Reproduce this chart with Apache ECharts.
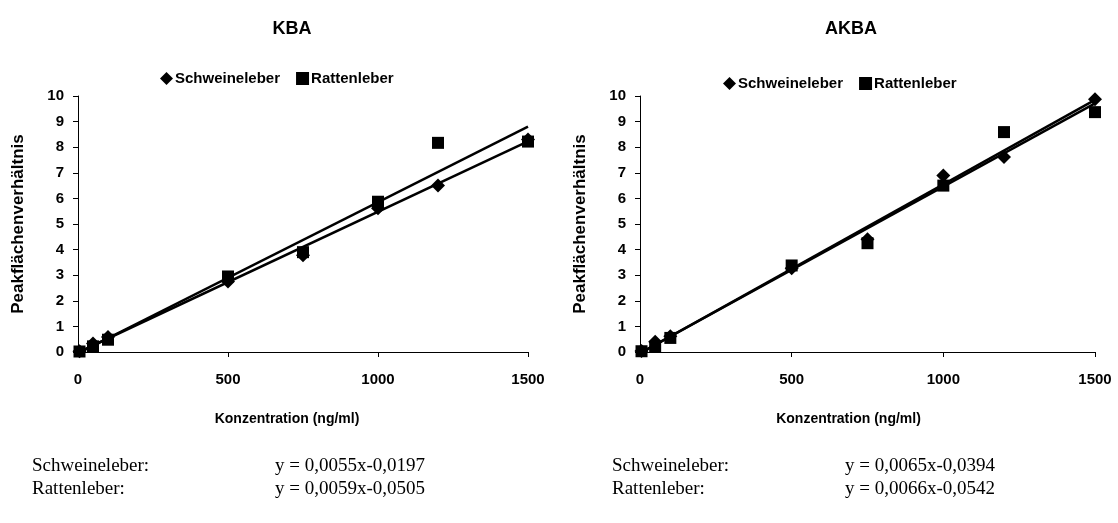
<!DOCTYPE html>
<html>
<head>
<meta charset="utf-8">
<script src="https://cdn.jsdelivr.net/npm/echarts@6/dist/echarts.min.js"></script>
<style>
html,body{margin:0;padding:0;background:#fff;}
#c{width:1118px;height:523px;}
</style>
</head>
<body>
<div id="c"></div>
<script>
// ---- data ----
var concentrations = [5, 50, 100, 500, 750, 1000, 1200, 1500];
var kbaSchwein = [0.03, 0.33, 0.59, 2.75, 3.78, 5.62, 6.5, 8.3];
var kbaRatten  = [0.02, 0.22, 0.48, 2.95, 3.9, 5.87, 8.17, 8.22];
var akbaSchwein = [0.04, 0.4, 0.62, 3.27, 4.4, 6.89, 7.62, 9.87];
var akbaRatten  = [0.03, 0.2, 0.55, 3.38, 4.25, 6.5, 8.59, 9.37];
// trend line equations (slope, intercept) as printed
var kbaSchweinFit = [0.0055, -0.0197];
var kbaRattenFit  = [0.0059, -0.0505];
var akbaSchweinFit = [0.0065, -0.0394];
var akbaRattenFit  = [0.0066, -0.0542];
var trendRange = [0, 1500];
var chartTitles = ['KBA', 'AKBA'];
var seriesNames = ['Schweineleber', 'Rattenleber'];
var xTicks = [0, 500, 1000, 1500];
var yTicks = [0, 1, 2, 3, 4, 5, 6, 7, 8, 9, 10];
var xAxisName = 'Konzentration (ng/ml)';
var yAxisName = 'Peakflächenverhältnis';
var equationsKBA = ['y = 0,0055x-0,0197', 'y = 0,0059x-0,0505'];
var equationsAKBA = ['y = 0,0065x-0,0394', 'y = 0,0066x-0,0542'];

// ---- build ----
function pairs(xs, ys){ return xs.map(function(x,i){ return [x, ys[i]]; }); }
function fitLine(fit){ return trendRange.map(function(x){ return [x, fit[0]*x + fit[1]]; }); }

var SANS = '"Liberation Sans", Arial, sans-serif';
var NARROW = '"Liberation Sans Narrow", "Arial Narrow", "Liberation Sans", sans-serif';
var SERIF = '"Liberation Serif", "Times New Roman", serif';

function xAxisCfg(idx, shift){
  return {
    gridIndex: idx, type: 'value', min: xTicks[0], max: xTicks[xTicks.length-1], interval: xTicks[1]-xTicks[0],
    name: xAxisName, nameLocation: 'middle', nameGap: 60,
    nameTextStyle: {fontFamily: NARROW, fontWeight: 'bold', fontSize: 14, color: '#000', padding: [0, shift, 0, 0]},
    axisLine: {show: true, onZero: false, lineStyle: {color: '#000', width: 1}},
    axisTick: {show: true, inside: false, length: 5, lineStyle: {color: '#000'}},
    axisLabel: {fontFamily: SANS, fontWeight: 'bold', fontSize: 15, color: '#000', margin: 20,
      formatter: function(v){ return String(v); }},
    splitLine: {show: false}
  };
}
function yAxisCfg(idx){
  return {
    gridIndex: idx, type: 'value', min: yTicks[0], max: yTicks[yTicks.length-1], interval: yTicks[1]-yTicks[0],
    name: yAxisName, nameLocation: 'middle', nameGap: 51, nameRotate: 90,
    nameTextStyle: {fontFamily: SANS, fontWeight: 'bold', fontSize: 17, color: '#000'},
    axisLine: {show: true, onZero: false, lineStyle: {color: '#000', width: 1}},
    axisTick: {show: true, inside: false, length: 5, lineStyle: {color: '#000'}},
    axisLabel: {fontFamily: SANS, fontWeight: 'bold', fontSize: 15, color: '#000', margin: 14},
    splitLine: {show: false}
  };
}
function scatter(name, idx, data, sym, size){
  return {name: name, type: 'scatter', xAxisIndex: idx, yAxisIndex: idx, data: data,
    symbol: sym, symbolSize: size, itemStyle: {color: '#000', opacity: 1}, z: 3, silent: true};
}
function trend(idx, fit){
  return {name: 'trend', type: 'line', xAxisIndex: idx, yAxisIndex: idx, data: fitLine(fit),
    symbol: 'none', lineStyle: {color: '#000', width: 2.5}, z: 2, silent: true};
}

function eqText(x, y, s){
  return {type: 'text', left: x, top: y, style: {text: s, font: '19px ' + SERIF, fill: '#000'}};
}

function legendCfg(left, top){
  return {left: left, top: top, itemGap: 16, itemWidth: 13, itemHeight: 13,
    data: [{name: seriesNames[0], icon: 'diamond'}, {name: seriesNames[1], icon: 'rect'}],
    itemStyle: {opacity: 1},
    textStyle: {fontFamily: SANS, fontWeight: 'bold', fontSize: 15, color: '#000', padding: [0,0,0,-3]}};
}

var option = {
  backgroundColor: '#fff',
  animation: false,
  title: [
    {text: chartTitles[0], left: 287, top: 15, textAlign: 'center',
      textStyle: {fontFamily: SANS, fontWeight: 'bold', fontSize: 18, color: '#000'}},
    {text: chartTitles[1], left: 846, top: 15, textAlign: 'center',
      textStyle: {fontFamily: SANS, fontWeight: 'bold', fontSize: 18, color: '#000'}}
  ],
  legend: [legendCfg(155, 66), legendCfg(718, 71)],
  grid: [
    {left: 78, top: 96, width: 450, height: 256},
    {left: 640, top: 96, width: 455, height: 256}
  ],
  xAxis: [xAxisCfg(0, 32), xAxisCfg(1, 38)],
  yAxis: [yAxisCfg(0), yAxisCfg(1)],
  series: [
    trend(0, kbaSchweinFit),
    trend(0, kbaRattenFit),
    scatter(seriesNames[0], 0, pairs(concentrations, kbaSchwein), 'diamond', 14),
    scatter(seriesNames[1], 0, pairs(concentrations, kbaRatten), 'rect', 12),
    trend(1, akbaSchweinFit),
    trend(1, akbaRattenFit),
    scatter(seriesNames[0], 1, pairs(concentrations, akbaSchwein), 'diamond', 14),
    scatter(seriesNames[1], 1, pairs(concentrations, akbaRatten), 'rect', 12)
  ],
  graphic: [
    eqText(32, 457, seriesNames[0] + ':'),
    eqText(275, 457, equationsKBA[0]),
    eqText(32, 480, seriesNames[1] + ':'),
    eqText(275, 480, equationsKBA[1]),
    eqText(612, 457, seriesNames[0] + ':'),
    eqText(845, 457, equationsAKBA[0]),
    eqText(612, 480, seriesNames[1] + ':'),
    eqText(845, 480, equationsAKBA[1])
  ]
};

var chart = echarts.init(document.getElementById('c'), null, {renderer: 'canvas'});
chart.setOption(option);
</script>
</body>
</html>
